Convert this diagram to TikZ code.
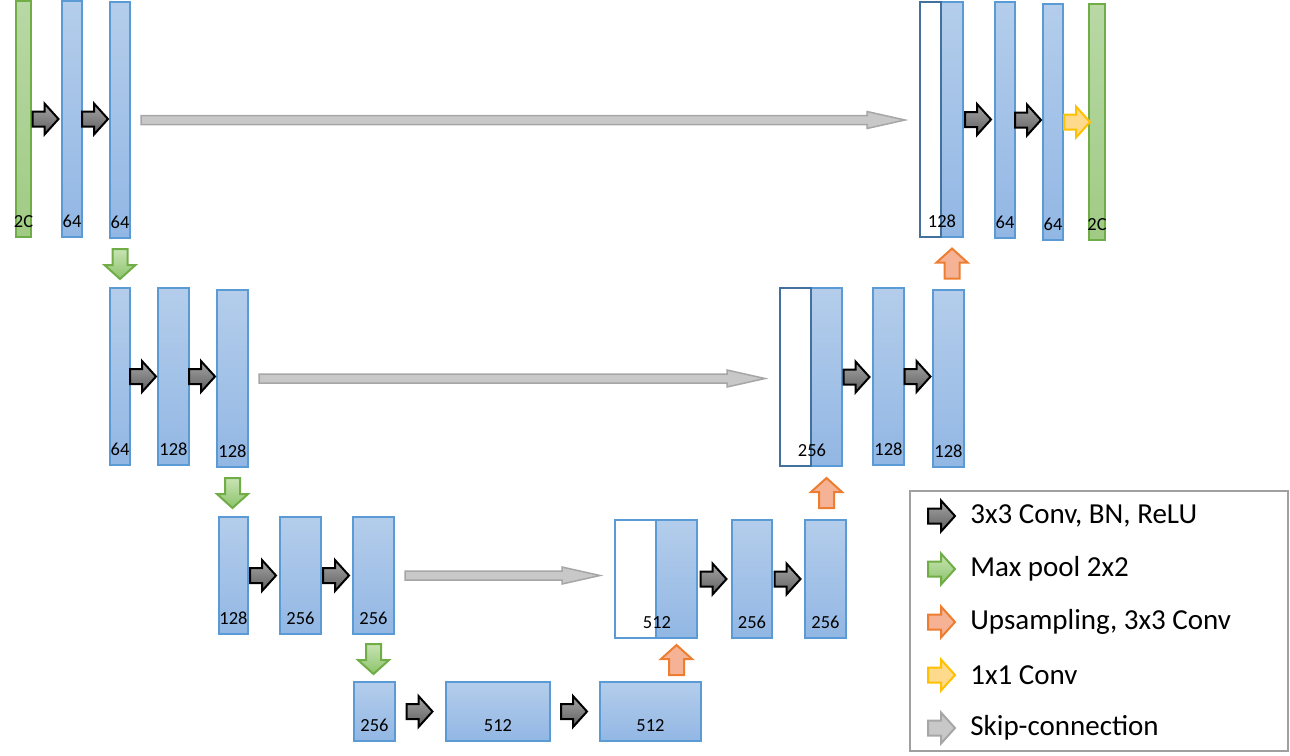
\documentclass[tikz,border=0pt]{standalone}
\usepackage{fontspec}
\setmainfont{Carlito}
\usetikzlibrary{calc}

\definecolor{boxline}{RGB}{91,155,213}
\definecolor{boxtop}{RGB}{180,205,235}
\definecolor{boxbot}{RGB}{146,183,228}
\definecolor{catline}{RGB}{65,113,156}
\definecolor{inline}{RGB}{112,173,71}
\definecolor{intop}{RGB}{184,216,165}
\definecolor{inbot}{RGB}{160,203,132}
\definecolor{convtop}{RGB}{165,165,165}
\definecolor{convbot}{RGB}{95,95,95}
\definecolor{pooltop}{RGB}{200,228,180}
\definecolor{poolbot}{RGB}{140,195,105}
\definecolor{upline}{RGB}{237,125,49}
\definecolor{upfill}{RGB}{246,178,148}
\definecolor{yelline}{RGB}{255,192,0}
\definecolor{yelfill}{RGB}{255,217,140}
\definecolor{skipline}{RGB}{166,166,166}
\definecolor{skipfill}{RGB}{200,200,200}
\definecolor{legline}{RGB}{160,160,160}

\tikzset{
  dims/.style 2 args={minimum width={#1*0.02cm}, minimum height={#2*0.02cm}, inner sep=0pt},
  fmap/.style 2 args={dims={#1}{#2}, draw=boxline, line width=0.04cm, top color=boxtop, bottom color=boxbot},
  imap/.style 2 args={dims={#1}{#2}, draw=inline, line width=0.04cm, top color=intop, bottom color=inbot},
  cmap/.style 2 args={dims={#1}{#2}, draw=catline, line width=0.04cm, fill=white},
  lbl/.style={font=\fontsize{10.5}{12}\selectfont, anchor=south, inner sep=0pt, yshift=0.2cm},
  % arrow shapes
  along/.style={shift={(\p1)}, rotate=\n2},
  fat/.style={line width=0.04cm, /utils/exec={\def\aw{0.15cm}\def\hw{0.31cm}\def\hl{0.28cm}}},
  slim/.style={line width=0.03cm, /utils/exec={\def\aw{0.09cm}\def\hw{0.17cm}\def\hl{0.76cm}}},
  % arrow colours
  convc/.style={draw=black, top color=convtop, bottom color=convbot},
  poolc/.style={draw=inline, top color=pooltop, bottom color=poolbot},
  upc/.style={draw=upline, fill=upfill},
  outc/.style={draw=yelline, fill=yelfill},
  skipc/.style={draw=skipline, fill=skipfill},
  conv/.style={fat, convc},
  pool/.style={fat, poolc},
  upconv/.style={fat, upc},
  outconv/.style={fat, outc},
  skipconn/.style={slim, skipc},
  legendbox/.style={draw=legline, line width=0.03cm},
  legtext/.style={font=\fontsize{16.5}{19}\selectfont, anchor=west, inner sep=0pt}
}

% block arrow from #2 to #3
\newcommand{\blockarrow}[3][]{%
  \draw[#1] let \p1=(#2), \p2=(#3),
      \n1={veclen(\x2-\x1,\y2-\y1)}, \n2={atan2(\y2-\y1,\x2-\x1)} in
    ([along]0pt,\aw) -- ([along]\n1-\hl,\aw) -- ([along]\n1-\hl,\hw)
    -- ([along]\n1,0pt) -- ([along]\n1-\hl,-\hw) -- ([along]\n1-\hl,-\aw)
    -- ([along]0pt,-\aw) -- cycle;}

\begin{document}
\begin{tikzpicture}[x=0.02cm, y=-0.02cm]
  \useasboundingbox (0,0) rectangle (1290,755);

  % encoder
  \node[imap={15}{236}, label={[lbl]south:2C}] (in) at (23.5,119) {};
  \node[fmap={20}{236}, label={[lbl]south:64}] (e11) at (72,119) {};
  \node[fmap={20}{236}, label={[lbl]south:64}] (e12) at (120,120) {};

  \node[fmap={20}{177}, label={[lbl]south:64}] (e21) at (120,376.5) {};
  \node[fmap={31}{177}, label={[lbl]south:128}] (e22) at (173.5,376.5) {};
  \node[fmap={31}{177}, label={[lbl]south:128}] (e23) at (232.5,378.5) {};

  \node[fmap={29}{117}, label={[lbl]south:128}] (e31) at (233.5,575.5) {};
  \node[fmap={41}{117}, label={[lbl]south:256}] (e32) at (300.5,575.5) {};
  \node[fmap={41}{117}, label={[lbl]south:256}] (e33) at (373.5,575.5) {};

  % bottleneck
  \node[fmap={41}{59}, label={[lbl]south:256}] (b1) at (374.5,711.5) {};
  \node[fmap={104}{59}, label={[lbl]south:512}] (b2) at (498,711.5) {};
  \node[fmap={101}{59}, label={[lbl]south:512}] (b3) at (650.5,711.5) {};

  % decoder
  \node[fmap={41}{118}] (u3) at (676.5,579) {};
  \node[dims={41}{118}, draw=boxline, line width=0.04cm, fill=white,
        label={[lbl]south east:512}] (cat3) at (635.5,579) {};
  \node[fmap={40}{118}, label={[lbl]south:256}] (d31) at (752,579) {};
  \node[fmap={41}{118}, label={[lbl]south:256}] (d32) at (825.5,579) {};

  \node[fmap={31}{178}] (u2) at (826.5,377) {};
  \node[cmap={31}{178}, label={[lbl]south east:256}] (cat2) at (795.5,377) {};
  \node[fmap={31}{177}, label={[lbl]south:128}] (d21) at (888.5,376.5) {};
  \node[fmap={31}{177}, label={[lbl]south:128}] (d22) at (948.5,378.5) {};

  \node[fmap={22}{235}] (u1) at (952,119.5) {};
  \node[cmap={21}{235}, label={[lbl]south east:128}] (cat1) at (930.5,119.5) {};
  \node[fmap={20}{236}, label={[lbl]south:64}] (d11) at (1005,120) {};
  \node[fmap={20}{236}, label={[lbl]south:64}] (d12) at (1053,122) {};
  \node[imap={16}{236}, label={[lbl]south:2C}] (out) at (1097,122) {};

  % convolutions
  \foreach \a/\b in {in/e11, e11/e12, e21/e22, e22/e23, e31/e32, e32/e33,
                     b1/b2, b2/b3, u3/d31, d31/d32, u2/d21, d21/d22, u1/d11, d11/d12}
    \blockarrow[conv]{$(\a.east)!0.5!(\a.east -| \b.west)+(-14,0)$}{$(\a.east)!0.5!(\a.east -| \b.west)+(12,0)$};
  \blockarrow[outconv]{$(d12.east)!0.5!(d12.east -| out.west)+(-12,0)$}{$(d12.east)!0.5!(d12.east -| out.west)+(14,0)$};

  % pooling
  \foreach \a/\b in {e12/e21, e23/e31, e33/b1}
    \blockarrow[pool]{$(\a.south)!0.5!(\a.south |- \b.north)+(0,-14)$}{$(\a.south)!0.5!(\a.south |- \b.north)+(0,16)$};

  % upsampling
  \foreach \a/\b in {b3/u3, d32/u2, d22/u1}
    \blockarrow[upconv]{$(\b.south |- \a.north)!0.5!(\b.south)+(0,15)$}{$(\b.south |- \a.north)!0.5!(\b.south)+(0,-15)$};

  % skip connections
  \foreach \a/\b in {e12/cat1, e23/cat2, e33/cat3}
    \blockarrow[skipconn]{$(\a.east)+(10,0)$}{$(\a.east -| \b.west)+(-14,0)$};

  % legend
  \node[legendbox, dims={378}{260}] (legend) at (1099,621) {};
  \foreach \col/\txt [count=\i] in {convc/{3x3 Conv, BN, ReLU}, poolc/{Max pool 2x2},
      upc/{Upsampling, 3x3 Conv}, outc/{1x1 Conv}, skipc/{Skip-connection}} {
    \node[legtext] (t\i) at (970,{516+(\i-1)*53}) {\txt};
    \blockarrow[fat,\col]{$(t\i.west)+(-42,0)$}{$(t\i.west)+(-15,0)$};
  }
\end{tikzpicture}
\end{document}
